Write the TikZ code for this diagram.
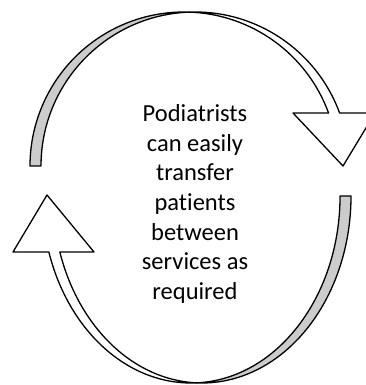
\documentclass[tikz,border=0pt]{standalone}
\usepackage{fontspec}
\setmainfont{Carlito}[Ligatures=NoCommon]
\begin{document}
\begin{tikzpicture}[x=1pt,y=1pt,
  arrowline/.style={draw=black, line width=1.3pt, line join=round},
  backside/.style={arrowline, fill=black!20},
  frontside/.style={arrowline, fill=white},
  label/.style={align=center, font=\fontsize{24.5}{29.7}\selectfont, inner sep=0pt}]
\useasboundingbox (0,0) rectangle (366,385);
\clip (0,0) rectangle (366,385);
% top curved arrow (circles A centre (184,219), B centre (195,219), r=154)
\path[backside] ([shift={(184,219)}]180:154) arc[start angle=180, end angle=87.95, radius=154]
  arc[start angle=92.05, end angle=180, radius=154] -- cycle;
\path[frontside] ([shift={(195,219)}]92.05:154) arc[start angle=92.05, end angle=20.1, radius=154]
  -- (375,272) -- (343,219) -- (293,272) -- ([shift={(184,219)}]20.1:154)
  arc[start angle=20.1, end angle=87.95, radius=154] -- cycle;
% bottom curved arrow (ellipses C centre (191,189), D centre (202,189))
\path[backside] ([shift={(202,189)}]0:149 and 187) arc[start angle=0, end angle=-92.11, x radius=149, y radius=187]
  arc[start angle=-87.89, end angle=0, x radius=149, y radius=187] -- cycle;
\path[frontside] ([shift={(191,189)}]-87.89:149 and 187) arc[start angle=-87.89, end angle=-162.58, x radius=149, y radius=187]
  -- (13,133) -- (47,190) -- (94,133) -- ([shift={(202,189)}]-162.58:149 and 187)
  arc[start angle=-162.58, end angle=-92.11, x radius=149, y radius=187] -- cycle;
\node[label] (txt) at (195,181) {Podiatrists\\can easily\\transfer\\patients\\between\\services as\\required};
\end{tikzpicture}
\end{document}
